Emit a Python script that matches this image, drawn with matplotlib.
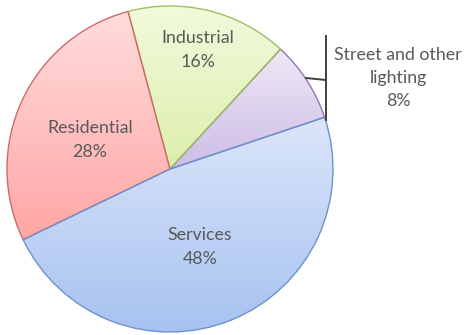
import numpy as np
import matplotlib.pyplot as plt
from matplotlib.colors import LinearSegmentedColormap

# parts de la consommation
labels = ["Street and other\nlighting", "Industrial", "Residential", "Services"]
shares = [8, 16, 28, 48]
# couleurs : haut du dégradé, bas du dégradé, bordure
top_colors = ["#eee8f6", "#f2fadc", "#ffdcdc", "#dce6fa"]
bottom_colors = ["#cdbde6", "#dcefac", "#ffa6a6", "#a6c2f0"]
edge_colors = ["#8e78b8", "#9cc060", "#d06a6a", "#6e92cc"]

fig = plt.figure(figsize=(4.66, 3.35), dpi=100)
ax = fig.add_axes([0, 0, 1, 1])

cx, cy, r = 170, 166, 163
wedges, _ = ax.pie(shares, startangle=18.5, counterclock=True, radius=r,
                   center=(cx, cy), frame=True,
                   wedgeprops=dict(linewidth=1.0))

# dégradé vertical dans chaque part
grad = np.linspace(0, 1, 256).reshape(-1, 1)
for w, c1, c2, ec in zip(wedges, top_colors, bottom_colors, edge_colors):
    w.set_facecolor("none")
    w.set_edgecolor(ec)
    w.set_zorder(3)
    bb = w.get_path().get_extents(w.get_patch_transform())
    cmap = LinearSegmentedColormap.from_list("g", [c2, c1])
    im = ax.imshow(grad, cmap=cmap, origin="lower", aspect="auto",
                   extent=[bb.x0, bb.x1, bb.y0, bb.y1], zorder=2)
    im.set_clip_path(w)
ax.set_xlim(0, 466)
ax.set_ylim(0, 335)
ax.set_aspect("equal")
ax.axis("off")

# étiquettes
txt = dict(ha="center", va="center", color="#595959", fontsize=12.8,
           family="Lato", linespacing=1.55)
ax.text(198, 335 - 50, "Industrial\n16%", **txt)
ax.text(90, 335 - 140, "Residential\n28%", **txt)
ax.text(200, 335 - 247, "Services\n48%", **txt)
ax.text(398, 335 - 78, "Street and other\nlighting\n8%", **txt)

# ligne de rappel
ax.plot([326, 326], [335 - 36, 335 - 120], color="#404040", lw=1.4, zorder=4)
ax.plot([306, 326], [335 - 78, 335 - 80], color="#404040", lw=1.4, zorder=4)

fig.savefig("out.png", dpi=100)
